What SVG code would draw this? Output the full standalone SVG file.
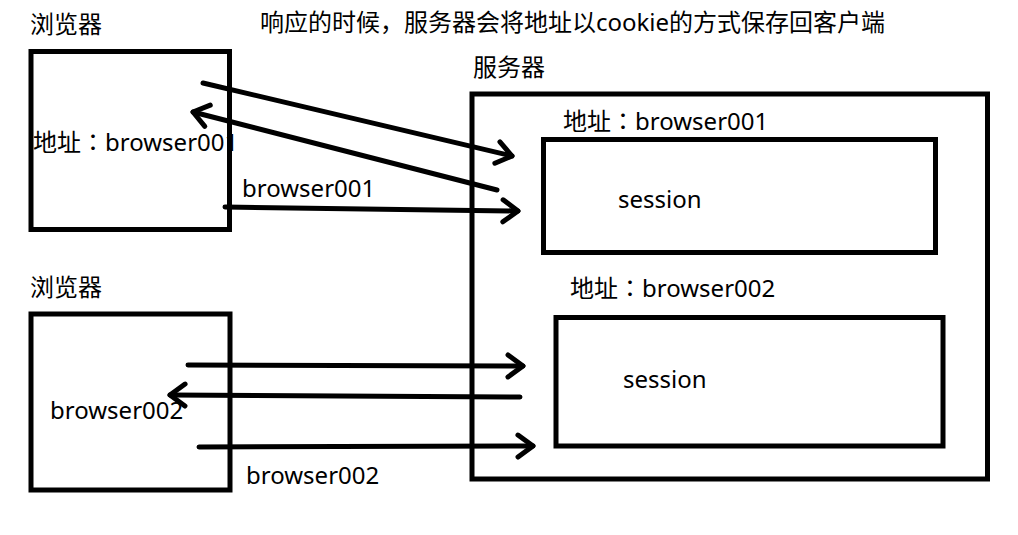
<svg xmlns="http://www.w3.org/2000/svg" width="1018" height="535" viewBox="0 0 1018 535">
<style>
.box{fill:none;stroke:#000;stroke-width:5}
.t{font-family:"Noto Sans","Noto Sans CJK SC",sans-serif;font-size:24px;fill:#000}
.c{font-family:"Noto Sans CJK JP","Noto Sans CJK SC",sans-serif}
.ln{fill:none;stroke:#000;stroke-width:5;stroke-linecap:round;marker-end:url(#ah)}
</style>
<defs>
<marker id="ah" markerUnits="userSpaceOnUse" orient="auto" overflow="visible" markerWidth="1" markerHeight="1">
<path d="M-15,-11 L0,0 L-15,11" fill="none" stroke="#000" stroke-width="5" stroke-linecap="round" stroke-linejoin="round"/>
</marker>
</defs>
<rect width="1018" height="535" fill="#fff"/>
<text class="t" x="260" y="31">响应的时候，服务器会将地址以cookie的方式保存回客户端</text>
<g id="browser1">
<text class="t" x="30" y="33">浏览器</text>
<rect class="box" x="31" y="51.5" width="198.5" height="178"/>
<text class="t" x="33" y="151">地址<tspan class="c">：</tspan>browser001</text>
</g>
<g id="browser2">
<text class="t" x="30" y="296">浏览器</text>
<rect class="box" x="31" y="314" width="199" height="176"/>
<text class="t" x="50" y="419">browser002</text>
</g>
<g id="server">
<text class="t" x="473" y="76">服务器</text>
<rect class="box" x="472" y="94" width="515.5" height="385"/>
</g>
<g id="session1">
<text class="t" x="563" y="130">地址<tspan class="c">：</tspan>browser001</text>
<rect class="box" x="543.5" y="139.5" width="392" height="113"/>
<text class="t" x="618" y="208">session</text>
</g>
<g id="session2">
<text class="t" x="570" y="297">地址<tspan class="c">：</tspan>browser002</text>
<rect class="box" x="556" y="317.5" width="387" height="128.5"/>
<text class="t" x="623" y="388">session</text>
</g>
<g id="connectors">
<path class="ln" d="M203,83 L512,156"/>
<path class="ln" d="M497,190 L193,112"/>
<path class="ln" d="M225,207 L518,211"/>
<text class="t" x="242" y="197">browser001</text>
<path class="ln" d="M188,365 L523,366"/>
<path class="ln" d="M520,397 L170,395"/>
<path class="ln" d="M199,447 L533,446"/>
<text class="t" x="246" y="484">browser002</text>
</g>
</svg>
